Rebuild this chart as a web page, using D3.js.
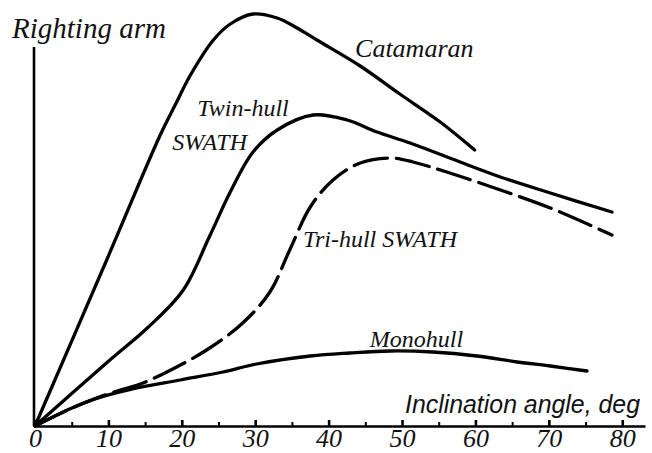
<!DOCTYPE html>
<html>
<head>
<meta charset="utf-8">
<style>
  body { margin: 0; background: #fff; }
  .lbl { font-family: "Liberation Serif", "Times New Roman", serif; font-style: italic; fill: #111; }
</style>
</head>
<body>
<script src="https://d3js.org/d3.v7.min.js"></script>
<script>
// angle in deg, righting arm in relative units (0..100)
var catamaranAngle = [0, 10, 17.0, 19.3, 21.1, 24.3, 26.6, 29.7, 33.0, 35.7, 38.4, 44.3, 49.7, 55.2, 59.9];
var catamaranArm   = [0, 42.5, 72.5, 81, 87.5, 96.5, 100.5, 103, 102, 99.5, 96.5, 90, 83, 76, 69];

var twinAngle = [0, 10.2, 15.3, 20.2, 23.8, 26.6, 29.7, 33.0, 37.9, 42.5, 46.6, 51.1, 57.9, 63.4, 70.2, 78.6];
var twinArm   = [0, 16.5, 24.5, 34, 47.5, 58.5, 68.5, 74, 77.75, 76.5, 73.5, 70.75, 66, 62.25, 58.25, 53.5];

var triAngle = [0, 4.8, 8.4, 11.2, 14.7, 19.3, 23.8, 28.3, 32.0, 34.7, 37.5, 40.6, 44.3, 48.4, 51.5, 56.1, 63.4, 70.2, 78.6];
var triArm   = [0, 4.3, 7.0, 8.75, 10.75, 14.75, 19.5, 25.75, 33.5, 44, 54.75, 61.5, 65.75, 67, 66, 63.5, 59, 54.5, 47.75];

var monoAngle = [0, 4.8, 8.4, 12.9, 19.8, 25.6, 30.2, 37.5, 42.9, 48.4, 54.2, 60.2, 65.7, 70.2, 75.2];
var monoArm   = [0, 4.3, 6.9, 9.1, 11.5, 13.5, 15.5, 17.5, 18.25, 18.75, 18.5, 17.5, 16, 15, 13.75];

var majorTicks = [0, 10, 20, 30, 40, 50, 60, 70, 80];
var minorTicks = [5, 15, 25, 35, 45, 55, 65, 75];

var width = 652, height = 453;

var svg = d3.select("body").append("svg")
    .attr("width", width)
    .attr("height", height);

var x = d3.scaleLinear().domain([0, 83.1]).range([35, 645]);
var y = d3.scaleLinear().domain([0, 100]).range([426, 26]);

function zipPts(a, b) { return a.map(function(d, i) { return [d, b[i]]; }); }

var line = d3.line()
    .curve(d3.curveCatmullRom.alpha(0.5))
    .x(function(d) { return x(d[0]); })
    .y(function(d) { return y(d[1]); });

var series = [
  {name: "Catamaran", pts: zipPts(catamaranAngle, catamaranArm), dash: null},
  {name: "Twin-hull SWATH", pts: zipPts(twinAngle, twinArm), dash: null},
  {name: "Tri-hull SWATH", pts: zipPts(triAngle, triArm), dash: "34,9"},
  {name: "Monohull", pts: zipPts(monoAngle, monoArm), dash: null}
];

series.forEach(function(s) {
  svg.append("path")
      .attr("d", line(s.pts))
      .style("fill", "none")
      .style("stroke", "#000")
      .style("stroke-width", 3.3)
      .style("stroke-linecap", "round")
      .style("stroke-dasharray", s.dash);
});

// y axis (plain line, no ticks)
svg.append("line")
    .attr("x1", x(0) - 1).attr("x2", x(0) - 1)
    .attr("y1", y(0)).attr("y2", y(94.75))
    .style("stroke", "#000").style("stroke-width", 2.6);

// x axis with upward ticks
var xAxis = d3.axisBottom(x)
    .tickValues(majorTicks)
    .tickSizeInner(-6)
    .tickSizeOuter(0)
    .tickFormat(d3.format("d"));

var gx = svg.append("g")
    .attr("transform", "translate(0," + y(0) + ")")
    .call(xAxis);
gx.select(".domain").style("stroke-width", 2.6);
gx.selectAll(".tick line").style("stroke-width", 2.6);
gx.selectAll(".tick text")
    .attr("class", "lbl")
    .attr("y", 21).attr("dy", 0)
    .style("font-size", "26px");

var gm = svg.append("g")
    .attr("transform", "translate(0," + y(0) + ")")
    .call(d3.axisBottom(x).tickValues(minorTicks).tickSizeInner(-4).tickSizeOuter(0).tickFormat(""));
gm.select(".domain").remove();
gm.selectAll(".tick line").style("stroke-width", 2);

// axis titles
svg.append("text")
    .attr("class", "lbl")
    .attr("x", 12).attr("y", 38)
    .style("font-size", "29px")
    .text("Righting arm");

svg.append("text")
    .attr("x", 405).attr("y", 413)
    .attr("textLength", 235)
    .attr("lengthAdjust", "spacingAndGlyphs")
    .style("font-family", "'Liberation Sans', Arial, sans-serif")
    .style("font-style", "italic")
    .style("font-size", "26px")
    .style("fill", "#111")
    .text("Inclination angle, deg");

// curve labels, placed in data units
var curveLabels = [
  {text: "Catamaran", a: 43.6, v: 92.25, size: 26},
  {text: "Twin-hull", a: 22.1, v: 77.5, size: 24},
  {text: "SWATH", a: 18.7, v: 69, size: 24},
  {text: "Tri-hull SWATH", a: 36.5, v: 44.75, size: 24},
  {text: "Monohull", a: 45.6, v: 19.75, size: 24}
];
svg.selectAll(".clbl")
    .data(curveLabels)
  .enter().append("text")
    .attr("class", "lbl clbl")
    .attr("x", function(d) { return x(d.a); })
    .attr("y", function(d) { return y(d.v); })
    .style("font-size", function(d) { return d.size + "px"; })
    .text(function(d) { return d.text; });
</script>
</body>
</html>
